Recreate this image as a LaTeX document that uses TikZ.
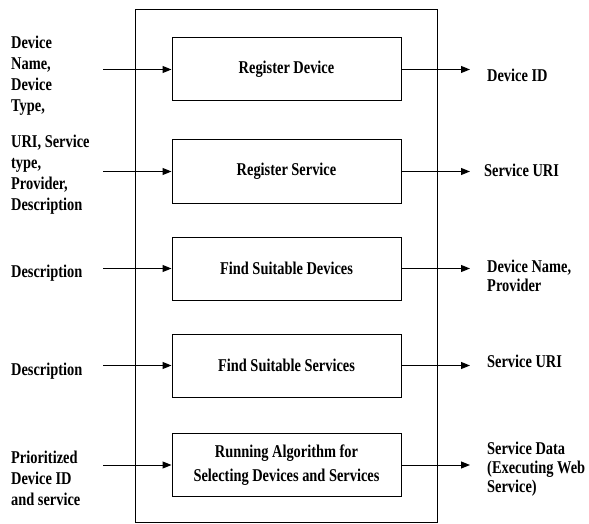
\documentclass[tikz,border=0pt]{standalone}
\usepackage{fontspec}
\setmainfont{Liberation Serif}[FakeStretch=0.8]
\usetikzlibrary{arrows.meta}
\begin{document}
\begin{tikzpicture}[x=1pt,y=-1pt,
  proc/.style={draw,line width=1pt,minimum width=229pt,minimum height=63pt,inner sep=0pt,align=center,font=\bfseries\fontsize{18}{24}\selectfont},
  lbl/.style={anchor=west,inner sep=0pt,align=left,font=\bfseries\fontsize{18}{21}\selectfont},
  rlbl/.style={anchor=west,inner sep=0pt,align=left,font=\bfseries\fontsize{18}{19}\selectfont},
  arr/.style={line width=1pt,-{Triangle[length=9pt,width=7pt]}}]
\useasboundingbox (0,0) rectangle (589,524);
\node[draw,line width=1pt,minimum width=302pt,minimum height=512pt,inner sep=0pt] (outer) at (286,266) {};
\node[proc] (b1) at (286.5,69.5) {Register Device};
\node[proc] (b2) at (286.5,171.5) {Register Service};
\node[proc] (b3) at (286.5,268.5) {Find Suitable Devices};
\node[proc] (b4) at (286.5,365.5) {Find Suitable Services};
\node[proc] (b5) at (286.5,465) {Running Algorithm for\\Selecting Devices and Services};
% left labels
\node[lbl] (l1) at (11,76) {Device\\Name,\\Device\\Type,};
\node[lbl] (l2) at (11,174.5) {URI, Service\\type,\\Provider,\\Description};
\node[lbl] (l3) at (11,273) {Description};
\node[lbl] (l4) at (11,371) {Description};
\node[lbl] (l5) at (11,478) {Prioritized\\Device ID\\and service};
% right labels
\node[rlbl] (r1) at (487,75) {Device ID};
\node[rlbl] (r2) at (484,170) {Service URI};
\node[rlbl] (r3) at (487,275.5) {Device Name,\\Provider};
\node[rlbl] (r4) at (487,361) {Service URI};
\node[rlbl] (r5) at (487,469) {Service Data\\(Executing Web\\Service)};
% arrow endpoints
\coordinate (i1) at (103,69.5);
\coordinate (i2) at (103,171.5);
\coordinate (i3) at (103,268.5);
\coordinate (i4) at (103,365.5);
\coordinate (i5) at (103,465);
\coordinate (o1) at (470,69.5);
\coordinate (o2) at (470,171.5);
\coordinate (o3) at (470,268.5);
\coordinate (o4) at (470,365.5);
\coordinate (o5) at (470,465);
\foreach \k in {1,...,5}{
  \draw[arr] (i\k) -- (b\k.west);
  \draw[arr] (b\k.east) -- (o\k);
}
\end{tikzpicture}
\end{document}
